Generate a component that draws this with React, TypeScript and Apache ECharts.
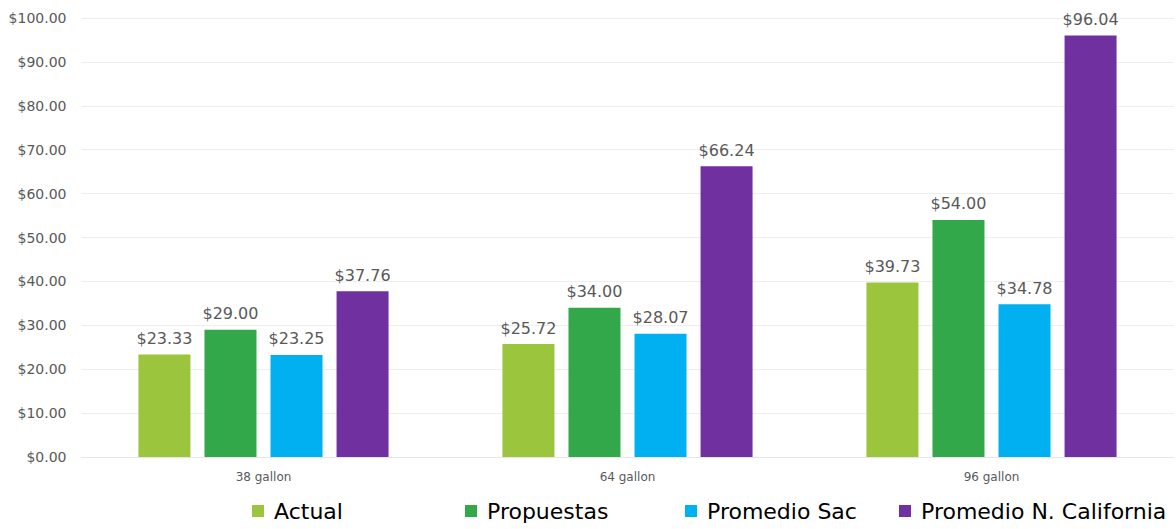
import React, { useEffect, useRef } from "react";
import * as echarts from "echarts";

const categories = ["38 gallon", "64 gallon", "96 gallon"];
const seriesNames = ["Actual", "Propuestas", "Promedio Sac", "Promedio N. California"];
const actual = [23.33, 25.72, 39.73];
const propuestas = [29.0, 34.0, 54.0];
const promedioSac = [23.25, 28.07, 34.78];
const promedioNCal = [37.76, 66.24, 96.04];
const colors = ["#9BC53C", "#32A84A", "#00B0F0", "#7030A0"];
const legendLefts = [252, 465, 685, 899];

export default function App() {
  const ref = useRef<HTMLDivElement>(null);
  useEffect(() => {
    if (!ref.current) return;
    const chart = echarts.init(ref.current, undefined, { renderer: "svg" });
    const values = [actual, propuestas, promedioSac, promedioNCal];
    const money = (v: number) => "$" + v.toFixed(2);
    chart.setOption({
      animation: false,
      backgroundColor: "#ffffff",
      grid: { left: 81.5, right: 2.5, top: 18, bottom: 72 },
      legend: seriesNames.map((n, i) => ({
        data: [n],
        left: legendLefts[i],
        top: 500,
        padding: 0,
        itemWidth: 12,
        itemHeight: 12,
        icon: "rect",
        textStyle: { fontFamily: "DejaVu Sans", fontSize: 22, color: "#000000", padding: [0, 0, 0, 5] },
      })),
      xAxis: {
        type: "category",
        data: categories,
        axisTick: { show: false },
        axisLine: { lineStyle: { color: "#E6E6E6", width: 1 } },
        axisLabel: { color: "#595959", fontFamily: "DejaVu Sans", fontSize: 12, margin: 14 },
      },
      yAxis: {
        type: "value",
        min: 0,
        max: 100,
        interval: 10,
        axisLine: { show: false },
        axisTick: { show: false },
        splitLine: { lineStyle: { color: "#EEEEEE", width: 1 } },
        axisLabel: {
          color: "#595959",
          fontFamily: "DejaVu Sans",
          fontSize: 14,
          margin: 15,
          formatter: (v: number) => money(v),
        },
      },
      series: seriesNames.map((n, i) => ({
        name: n,
        type: "bar",
        data: values[i],
        barWidth: 52,
        barGap: "27%",
        itemStyle: { color: colors[i] },
        label: {
          show: true,
          position: "top",
          distance: 8,
          color: "#595959",
          fontFamily: "DejaVu Sans",
          fontSize: 16,
          formatter: (p: any) => money(p.value),
        },
      })),
    });
    return () => chart.dispose();
  }, []);
  return (
    <div
      ref={ref}
      style={{ position: "fixed", left: 0, top: 0, width: 1176, height: 529 }}
    />
  );
}
